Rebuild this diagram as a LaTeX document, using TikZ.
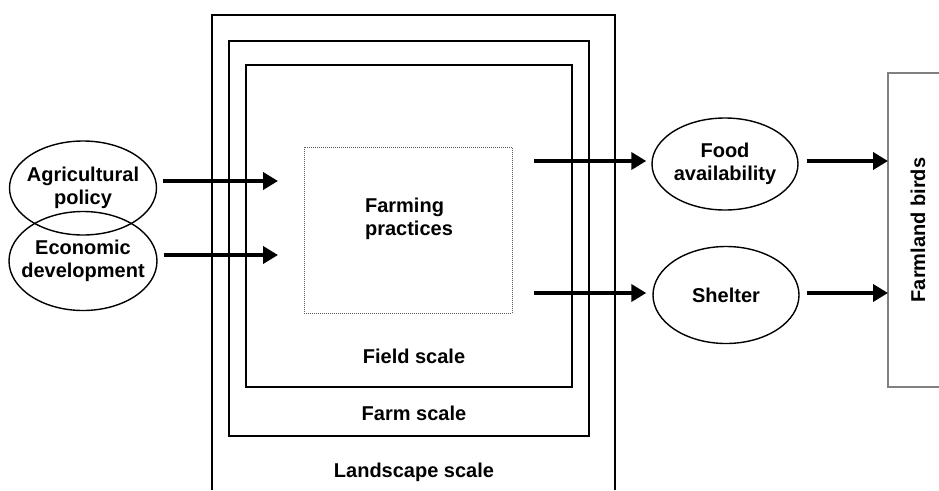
\documentclass[tikz,border=0pt]{standalone}
\usepackage{fontspec}
\setmainfont{Liberation Sans}
\usetikzlibrary{shapes.geometric,arrows.meta}
\begin{document}
\begin{tikzpicture}[x=1pt,y=-1pt,
  lbl/.style={font=\fontsize{20}{23}\selectfont\bfseries, align=center, inner sep=0pt},
  oval/.style={ellipse, draw, line width=1.4pt, inner sep=0pt},
  scalebox/.style={draw, line width=1.8pt},
  bigarrow/.style={line width=4.5pt, -{Triangle[length=15pt,width=17pt]}}
]
\useasboundingbox (0,0) rectangle (939,490);
% scale boxes
\draw[scalebox] (212,490) -- (212,15) -- (615,15) -- (615,490);
\draw[scalebox] (229,41) rectangle (589,436);
\draw[scalebox] (246,65) rectangle (572,387);
\node[draw, gray!70!black, densely dotted, line width=1pt, minimum width=208pt, minimum height=166pt, inner sep=0pt] (fp) at (408,230) {};
\node[lbl, align=left] (fptext) at (409,219) {Farming\\practices};
\node[lbl] (field) at (414,356) {Field scale};
\node[lbl] (farm) at (414,413) {Farm scale};
\node[lbl] (land) at (414,472) {Landscape scale};
% left ellipses
\node[oval, minimum width=147pt, minimum height=94pt, label={[lbl]center:Agricultural\\policy}] (ap) at (83,188) {};
\node[oval, minimum width=148pt, minimum height=99pt, label={[lbl]center:Economic\\development}] (ed) at (83,261) {};
% right ellipses
\node[oval, minimum width=146pt, minimum height=92pt, label={[lbl]center:Food\\availability}] (fa) at (725,164) {};
\node[oval, minimum width=146pt, minimum height=97pt, label={[lbl]center:Shelter}] (sh) at (726,295) {};
% farmland birds box
\draw[gray, line width=1.2pt] (939,73) -- (888,73) -- (888,387) -- (939,387);
\coordinate (birds1) at (888,161);
\coordinate (birds2) at (888,293);
\node[lbl, rotate=90] (birds) at (918,230) {Farmland birds};
% arrows
\coordinate (in1) at (278,181);
\coordinate (in2) at (278,255);
\coordinate (out1) at (534,161);
\coordinate (out2) at (534,293);
\draw[bigarrow] ([xshift=6pt]ap.east |- in1) -- (in1);
\draw[bigarrow] ([xshift=6pt]ed.east |- in2) -- (in2);
\draw[bigarrow] (out1) -- ([xshift=-5pt]fa.west |- out1);
\draw[bigarrow] (out2) -- ([xshift=-6pt]sh.west |- out2);
\draw[bigarrow] ([xshift=8pt]fa.east |- birds1) -- (birds1);
\draw[bigarrow] ([xshift=7pt]sh.east |- birds2) -- (birds2);
\end{tikzpicture}
\end{document}
